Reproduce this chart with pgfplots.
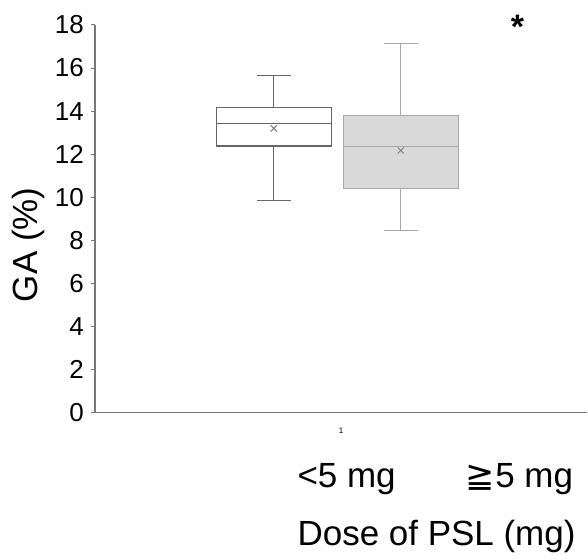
\documentclass[border=0pt]{standalone}
\usepackage{fontspec}
\setmainfont{Liberation Sans}
\newfontfamily\djv{DejaVu Sans}
\usepackage{pgfplots}
\pgfplotsset{compat=1.18}
\definecolor{axgray}{HTML}{777777}
\definecolor{boxa}{HTML}{666666}
\definecolor{boxb}{HTML}{A8A8A8}
\definecolor{fillb}{HTML}{D9D9D9}
\begin{document}
\begin{tikzpicture}
\begin{axis}[
  at={(0,0)}, anchor=south west,
  scale only axis,
  width=246.5pt, height=194pt,
  xmin=0.5, xmax=1.5, ymin=0, ymax=18,
  axis x line*=bottom, axis y line*=left,
  axis line style={axgray, line width=0.6pt},
  ytick={0,2,...,18},
  xtick={1},
  xticklabel style={font=\fontsize{4}{5}\selectfont, yshift=-2pt},
  yticklabel style={font=\fontsize{13}{15}\selectfont},
  /pgf/number format/assume math mode=true,
  tick align=outside,
  major tick length=2pt,
  major tick style={axgray, line width=0.5pt},
  major x tick style={draw=none},
  every axis y label/.style={at={(rel axis cs:0,0.433)}, xshift=-33.5pt, rotate=90, anchor=center},
  ylabel={GA (\%)},
  ylabel style={font=\fontsize{17.5}{20}\selectfont},
  unbounded coords=jump,
]
% group 1: <5 mg
\addplot[draw=boxa, line width=0.6pt, mark=none] coordinates {
  (0.8631,9.85)(0.8631,12.38) (nan,nan)
  (0.8631,14.15)(0.8631,15.66) (nan,nan)
  (0.8286,9.85)(0.8976,9.85) (nan,nan)
  (0.8286,15.66)(0.8976,15.66)};
\addplot[draw=boxa, fill=white, line width=0.6pt, mark=none] coordinates {
  (0.7475,12.38)(0.9807,12.38)(0.9807,14.15)(0.7475,14.15)} -- cycle;
\addplot[draw=boxa, line width=0.6pt, mark=none] coordinates {
  (0.7475,13.42)(0.9807,13.42)};
\addplot[only marks, mark=x, mark size=2.2pt, draw=gray, line width=0.5pt] coordinates {(0.8631,13.2)};
% group 2: >=5 mg
\addplot[draw=boxb, line width=0.6pt, mark=none] coordinates {
  (1.121,8.47)(1.121,10.4) (nan,nan)
  (1.121,13.8)(1.121,17.15) (nan,nan)
  (1.0867,8.47)(1.1556,8.47) (nan,nan)
  (1.0867,17.15)(1.1556,17.15)};
\addplot[draw=boxb, fill=fillb, line width=0.6pt, mark=none] coordinates {
  (1.0051,10.4)(1.2383,10.4)(1.2383,13.8)(1.0051,13.8)} -- cycle;
\addplot[draw=boxb, line width=0.6pt, mark=none] coordinates {
  (1.0051,12.34)(1.2383,12.34)};
\addplot[only marks, mark=x, mark size=2.2pt, draw=gray, line width=0.5pt] coordinates {(1.121,12.17)};
\end{axis}
\node[font=\fontsize{17.5}{20}\selectfont] at (126pt,-33.5pt) {<5 mg};
\node[font=\fontsize{17.5}{20}\selectfont] at (212.5pt,-33.5pt) {{\djv ≧}5 mg};
\node[font=\fontsize{17.5}{20}\selectfont] at (171pt,-62pt) {Dose of PSL (mg)};
\node[font=\bfseries\fontsize{17}{20}\selectfont] at (211.5pt,193pt) {*};
\useasboundingbox (-47.5pt,-73.5pt) rectangle (246.5pt,206.5pt);
\end{tikzpicture}
\end{document}
